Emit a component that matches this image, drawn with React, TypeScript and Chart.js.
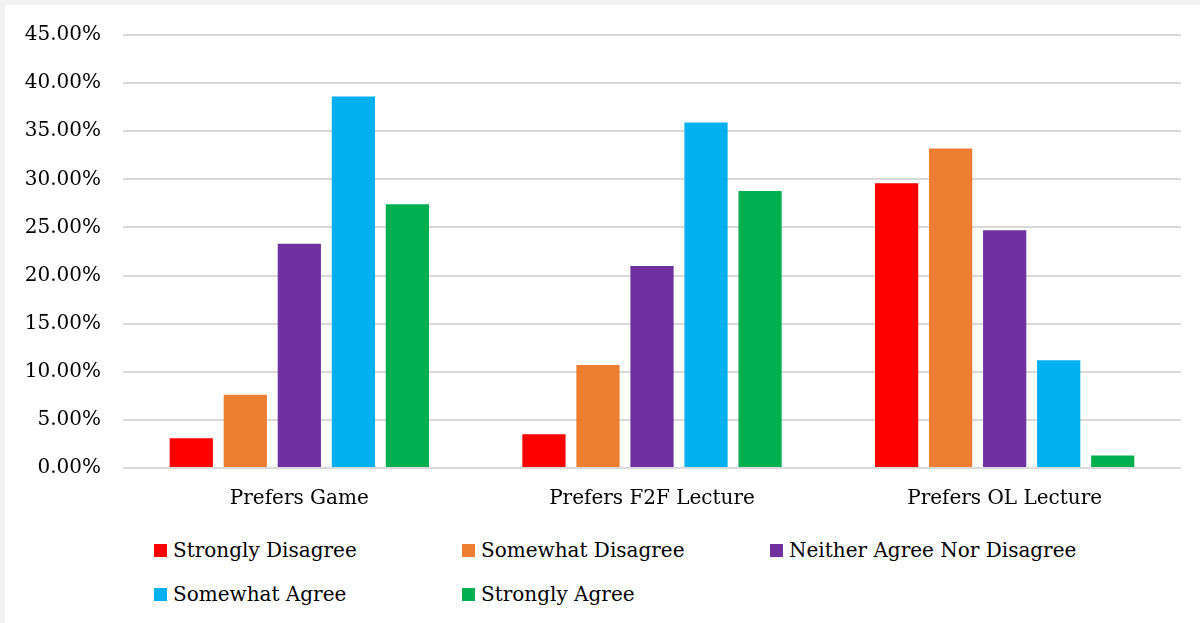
import React, { useEffect, useRef } from "react";
import { Chart, registerables } from "chart.js";

Chart.register(...registerables);

const categories = ["Prefers Game", "Prefers F2F Lecture", "Prefers OL Lecture"];
const seriesNames = [
  "Strongly Disagree",
  "Somewhat Disagree",
  "Neither Agree Nor Disagree",
  "Somewhat Agree",
  "Strongly Agree",
];
const seriesColors = ["#ff0000", "#ed7d31", "#7030a0", "#00b0f0", "#00b050"];
const stronglyDisagree = [3.1, 3.5, 29.6];
const somewhatDisagree = [7.6, 10.7, 33.2];
const neither = [23.3, 21.0, 24.7];
const somewhatAgree = [38.6, 35.9, 11.2];
const stronglyAgree = [27.4, 28.8, 1.3];
const seriesValues = [stronglyDisagree, somewhatDisagree, neither, somewhatAgree, stronglyAgree];

const FONT = "'DejaVu Serif', serif";

export default function App() {
  const ref = useRef<HTMLCanvasElement | null>(null);

  useEffect(() => {
    if (!ref.current) return;
    const chart = new Chart(ref.current, {
      type: "bar",
      data: {
        labels: categories,
        datasets: seriesNames.map((name, i) => ({
          label: name,
          data: seriesValues[i],
          backgroundColor: seriesColors[i],
          borderWidth: 0,
          categoryPercentage: 0.766,
          barPercentage: 0.8,
        })),
      },
      options: {
        animation: false,
        responsive: false,
        maintainAspectRatio: false,
        layout: { padding: { top: 30, right: 19, bottom: 0, left: 0 } },
        plugins: { legend: { display: false }, tooltip: { enabled: false } },
        scales: {
          x: {
            grid: { display: false, drawTicks: false },
            border: { display: false },
            ticks: { color: "#000", font: { family: FONT, size: 20 }, padding: 19 },
            afterFit: (s: any) => {
              s.height = 58;
            },
          },
          y: {
            min: 0,
            max: 45,
            grid: { color: "#d9d9d9", lineWidth: 2, drawTicks: false },
            border: { display: false },
            ticks: {
              stepSize: 5,
              color: "#000",
              padding: 22,
              font: { family: FONT, size: 20 },
              callback: (v: any) => Number(v).toFixed(2) + "%",
            },
            afterFit: (s: any) => {
              s.width = 118;
              s.paddingTop = 0;
              s.paddingBottom = 0;
            },
          },
        },
      },
    });
    return () => chart.destroy();
  }, []);

  return (
    <div style={{ position: "fixed", left: 0, top: 0, width: 1200, height: 623, background: "#f2f2f2" }}>
      <div style={{ position: "absolute", left: 5, top: 5, right: 0, bottom: 0, background: "#fff" }}>
        <canvas ref={ref} width={1195} height={521} style={{ display: "block", width: 1195, height: 521 }} />
        {seriesNames.map((name, i) => {
          const col = i % 3;
          const row = Math.floor(i / 3);
          return (
            <div
              key={name}
              style={{
                position: "absolute",
                left: 149 + col * 308,
                top: 530 + row * 44,
                height: 30,
                display: "flex",
                alignItems: "center",
                fontFamily: FONT,
                fontSize: 20,
                color: "#000",
                whiteSpace: "nowrap",
              }}
            >
              <span style={{ display: "inline-block", width: 13, height: 13, background: seriesColors[i], marginRight: 6 }} />
              {name}
            </div>
          );
        })}
      </div>
    </div>
  );
}
